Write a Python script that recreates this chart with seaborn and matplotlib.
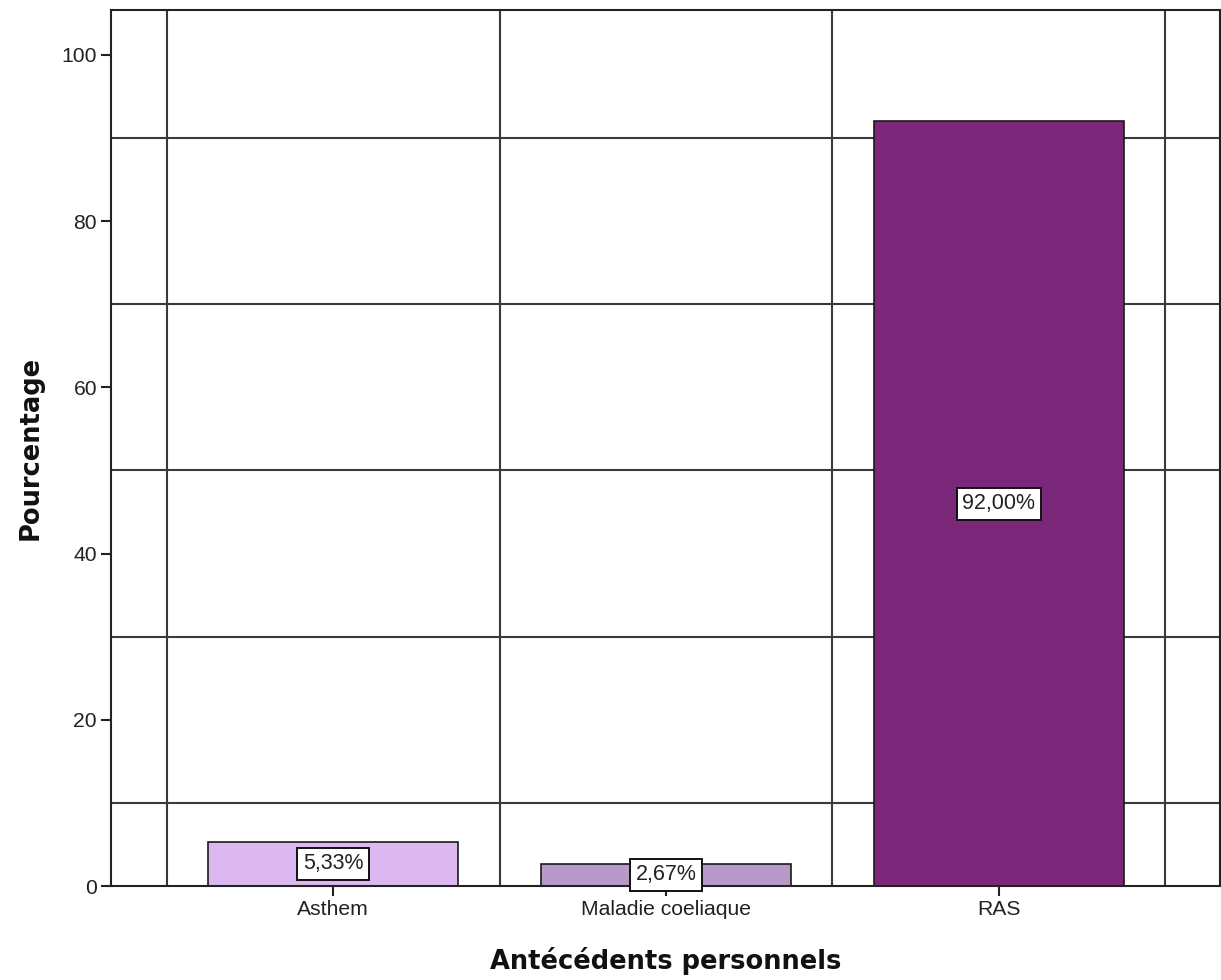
import matplotlib
matplotlib.use("Agg")
import matplotlib.pyplot as plt
import seaborn as sns
import pandas as pd

# Data
categories = ["Asthem", "Maladie coeliaque", "RAS"]
percentages = [5.33, 2.67, 92.00]
bar_colors = ["#dcb8f0", "#b899c9", "#7b287a"]
y_ticks = [0, 20, 40, 60, 80, 100]
h_lines = [10, 30, 50, 70, 90]
v_lines = [-0.5, 0.5, 1.5, 2.5]

sns.set_theme(style="white")
plt.rcParams["font.family"] = ["Liberation Sans", "DejaVu Sans"]

df = pd.DataFrame({"cat": categories, "pct": percentages})

fig = plt.figure(figsize=(12.21, 9.80), dpi=100)
ax = fig.add_axes([111 / 1221, 1 - 886 / 980, (1220 - 111) / 1221, (886 - 10) / 980])

for y in h_lines:
    ax.axhline(y, color="#3a3a3a", lw=1.5, zorder=0.5)
for x in v_lines:
    ax.axvline(x, color="#3a3a3a", lw=1.5, zorder=0.5)

sns.barplot(data=df, x="cat", y="pct", hue="cat", palette=bar_colors,
            saturation=1, legend=False, width=0.75, edgecolor="#1a1a1a",
            linewidth=1.2, ax=ax, zorder=2)

for i, v in enumerate(percentages):
    ax.text(i, v / 2, f"{v:.2f}%".replace(".", ","), ha="center", va="center",
            fontsize=15.5, color="#222222", zorder=5,
            bbox=dict(boxstyle="square,pad=0.25", fc="white", ec="#111111", lw=1.4))

ax.set_xlim(-0.667, 2.664)
ax.set_ylim(0, 105.4)
ax.set_yticks(y_ticks)
ax.set_yticklabels([str(t) for t in y_ticks])

for s in ax.spines.values():
    s.set_color("#222222")
    s.set_linewidth(1.5)

ax.tick_params(axis="both", which="both", direction="out", length=7, width=1.5,
               color="#222222", labelsize=15.2, labelcolor="#222222", pad=3,
               left=True, bottom=True)

ax.set_xlabel("Antécédents personnels", fontsize=18.5, fontweight="bold",
              family=["DejaVu Sans"], color="#111111", labelpad=20)
ax.set_ylabel("Pourcentage", fontsize=18.5, fontweight="bold",
              family=["DejaVu Sans"], color="#111111", labelpad=13)

fig.savefig("out.png", dpi=100)
